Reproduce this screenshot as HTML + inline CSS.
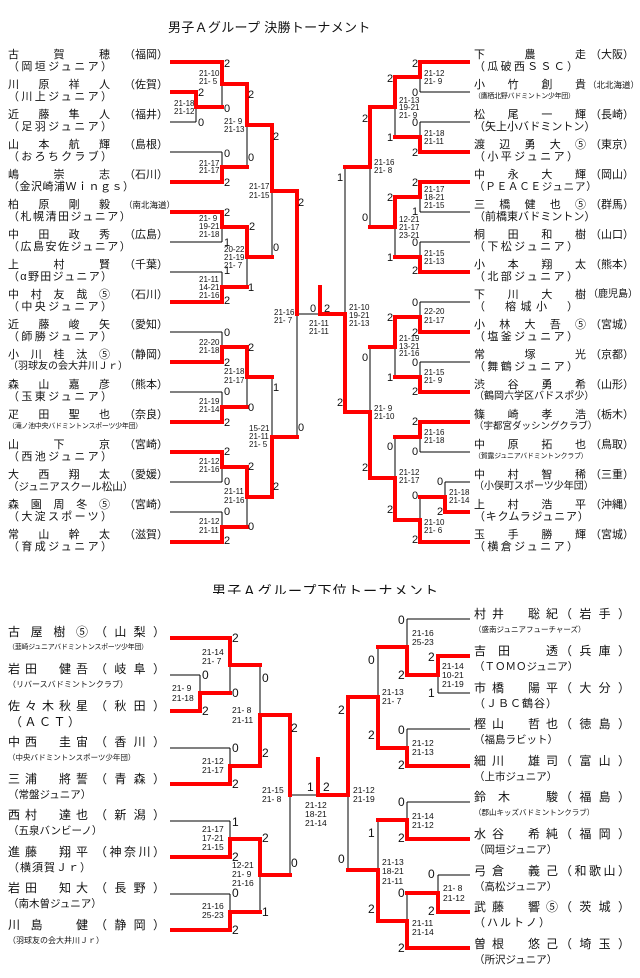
<!DOCTYPE html>
<html><head><meta charset="utf-8">
<style>
html,body{margin:0;padding:0;background:#fff;}
body{width:640px;height:978px;position:relative;overflow:hidden;font-family:"Liberation Sans","Noto Sans CJK JP",sans-serif;color:#111;}
.j{position:absolute;white-space:nowrap;text-align:justify;text-align-last:justify;text-justify:inter-character;font-size:11px;line-height:12px;height:12px;}
.t{position:absolute;white-space:nowrap;font-size:10px;line-height:12px;height:12px;}
.sm{font-size:7px;letter-spacing:-0.3px;}
.b{font-size:12px;line-height:14px;height:14px;}
svg{position:absolute;left:0;top:0;}
svg text{font-family:"Liberation Sans",sans-serif;fill:#111;}
.n{font-size:11px;}
.nb{font-size:12px;}
.s{font-size:8px;fill:#333;}
.sb{font-size:8.5px;fill:#333;}
</style></head><body>
<div style="position:absolute;left:168px;top:19px;font-size:13px;line-height:18px;letter-spacing:0.3px;">男子Ａグループ 決勝トーナメント</div>
<div style="position:absolute;left:212px;top:582px;height:12px;overflow:hidden;font-size:14px;line-height:18px;letter-spacing:1.2px;">男子Ａグループ下位トーナメント</div>

<svg width="640" height="978" viewBox="0 0 640 978">
<g stroke="#000" stroke-width="1" fill="none">
<!-- top left -->
<path d="M170 62H222M170 92H196M170 122H196M196 92V122M196 107H222M222 62V107M222 84H247
M170 152H222M170 182H222M222 152V182M222 167H247M247 84V167M247 125H272
M170 212H222M170 242H222M222 212V242M222 227H247M170 272H222M170 302H222M222 272V302M222 287H247M247 227V287M247 257H272M272 125V257M272 191H297
M170 332H222M170 362H222M222 332V362M222 347H247M170 392H222M170 422H222M222 392V422M222 407H247M247 347V407M247 377H272
M170 452H222M170 482H222M222 452V482M222 467H247M170 512H222M170 542H222M222 512V542M222 527H247M247 467V527M247 497H272M272 377V497M272 437H297
M297 191V437M297 314H320"/>
<!-- top right -->
<path d="M470 62H420M470 92H420M420 62V92M420 77H395M470 122H420M470 152H420M420 122V152M420 137H395M395 77V137M395 107H370
M470 182H420M470 212H420M420 182V212M420 197H395M470 242H420M470 272H420M420 242V272M420 257H395M395 197V257M395 227H370M370 107V227M370 167H345
M470 302H420M470 332H420M420 302V332M420 317H395M470 362H420M470 392H420M420 362V392M420 377H395M395 317V377M395 347H370
M470 422H420M470 452H420M420 422V452M420 437H395M470 482H445M470 512H445M445 482V512M445 497H420M470 542H420M420 497V542M420 520H395M395 437V520M395 478H370M370 347V478M370 412H345
M345 167V412M345 314H320"/>
<!-- bottom left -->
<path d="M170 638H230M170 675H200M170 711H200M200 675V711M200 693H230M230 638V693M230 665H260
M170 748H230M170 784H230M230 748V784M230 766H260M260 665V766M260 715H290
M170 821H230M170 857H230M230 821V857M230 839H260M170 894H230M170 930H230M230 894V930M230 912H260M260 839V912M260 875H290
M290 715V875M290 795H318"/>
<!-- bottom right -->
<path d="M470 619H407M470 656H438M470 693H438M438 656V693M438 675H407M407 619V675M407 647H378
M470 729H407M470 766H407M407 729V766M407 748H378M378 647V748M378 697H348
M470 802H407M470 839H407M407 802V839M407 820H378M470 875H438M470 912H438M438 875V912M438 893H407M470 948H407M407 893V948M407 921H378M378 820V921M378 870H348
M348 697V870M348 795H318"/>
</g>
<g stroke="#f00" stroke-width="4" fill="none" stroke-linejoin="miter" stroke-linecap="square">
<path d="M172 62H222V84H247V125H272V191H297V314"/>
<path d="M172 92H196V107H222"/>
<path d="M172 182H222V167H247"/>
<path d="M172 212H222V227H247V257H272"/>
<path d="M172 302H222V287H247"/>
<path d="M172 362H222V347H247V377H272"/>
<path d="M172 422H222V407H247"/>
<path d="M172 452H222V467H247V497H272V437H297"/>
<path d="M172 542H222V527H247"/>
<path d="M320 287V314H345"/>
<path d="M468 62H420V77H395V107H370V167H345"/>
<path d="M468 152H420V137H395"/>
<path d="M468 182H420V197H395V227H370"/>
<path d="M468 272H420V257H395"/>
<path d="M468 332H420V317H395V347H370"/>
<path d="M468 392H420V377H395"/>
<path d="M468 422H420V437H395"/>
<path d="M468 512H445V497H420"/>
<path d="M468 542H420V520H395V478H370V412H345V314"/>
<!-- bottom -->
<path d="M172 638H230V665H260"/>
<path d="M172 711H200V693H230"/>
<path d="M172 784H230V766H260V715H290V795"/>
<path d="M172 857H230V839H260V875H290"/>
<path d="M172 930H230V912H260"/>
<path d="M318 759V795H348V697H378"/>
<path d="M468 766H407V748H378V697"/>
<path d="M468 656H438V675H407V647H378"/>
<path d="M468 839H407V820H378"/>
<path d="M468 912H438V893H407"/>
<path d="M468 948H407V921H378V870H348"/>
</g>

<g class="n">
<text x="224" y="67">2</text><text x="198" y="96">2</text><text x="224" y="112">0</text><text x="198" y="126">0</text>
<text x="248" y="98">2</text><text x="248" y="161">0</text><text x="224" y="157">0</text><text x="224" y="186">2</text>
<text x="273" y="140">2</text><text x="298" y="206">2</text><text x="224" y="216">2</text><text x="249" y="230">2</text>
<text x="224" y="246">1</text><text x="273" y="251">0</text><text x="224" y="274">1</text><text x="248" y="291">1</text><text x="224" y="304">2</text>
<text x="224" y="336">0</text><text x="248" y="351">2</text><text x="224" y="366">2</text><text x="273" y="391">1</text>
<text x="224" y="395">0</text><text x="248" y="411">0</text><text x="224" y="426">2</text><text x="298" y="431">0</text>
<text x="224" y="455">2</text><text x="248" y="470">2</text><text x="224" y="485">0</text><text x="273" y="490">2</text>
<text x="224" y="515">0</text><text x="248" y="530">0</text><text x="224" y="544">2</text>
<text x="310" y="312">0</text><text x="324" y="312">2</text>
<text x="337" y="181">1</text><text x="362" y="221">0</text><text x="337" y="406">2</text><text x="362" y="361">0</text>
<text x="412" y="67">2</text><text x="387" y="82">2</text><text x="412" y="96">0</text><text x="362" y="122">2</text>
<text x="412" y="126">0</text><text x="387" y="141">1</text><text x="412" y="156">2</text><text x="412" y="186">2</text>
<text x="387" y="201">2</text><text x="412" y="215">1</text><text x="412" y="246">0</text><text x="387" y="261">1</text><text x="412" y="274">2</text>
<text x="412" y="306">0</text><text x="387" y="321">2</text><text x="412" y="336">2</text><text x="412" y="366">0</text>
<text x="387" y="381">1</text><text x="412" y="395">2</text><text x="412" y="425">2</text><text x="387" y="450">0</text>
<text x="412" y="455">0</text><text x="362" y="471">2</text><text x="437" y="485">0</text><text x="412" y="499">0</text>
<text x="437" y="515">2</text><text x="387" y="513">2</text><text x="412" y="543">2</text>
</g>
<g class="s">
<text x="199" y="76">21-10</text><text x="199" y="84">21- 5</text>
<text x="174" y="106">21-18</text><text x="174" y="114">21-12</text>
<text x="224" y="124">21- 9</text><text x="224" y="132">21-13</text>
<text x="199" y="166">21-17</text><text x="199" y="173">21-17</text>
<text x="249" y="189">21-17</text><text x="249" y="198">21-15</text>
<text x="199" y="221">21- 9</text><text x="199" y="229">19-21</text><text x="199" y="237">21-18</text>
<text x="224" y="252">20-22</text><text x="224" y="260">21-19</text><text x="224" y="268">21- 7</text>
<text x="199" y="282">21-11</text><text x="199" y="290">14-21</text><text x="199" y="298">21-16</text>
<text x="274" y="315">21-16</text><text x="274" y="323">21- 7</text>
<text x="199" y="345">22-20</text><text x="199" y="353">21-18</text>
<text x="224" y="374">21-18</text><text x="224" y="383">21-17</text>
<text x="199" y="404">21-19</text><text x="199" y="412">21-14</text>
<text x="249" y="431">15-21</text><text x="249" y="439">21-11</text><text x="249" y="447">21- 5</text>
<text x="199" y="464">21-12</text><text x="199" y="472">21-16</text>
<text x="224" y="494">21-11</text><text x="224" y="503">21-16</text>
<text x="199" y="524">21-12</text><text x="199" y="533">21-11</text>
<text x="309" y="326">21-11</text><text x="309" y="334">21-11</text>
<text x="349" y="310">21-10</text><text x="349" y="318">19-21</text><text x="349" y="326">21-13</text>
<text x="424" y="76">21-12</text><text x="424" y="84">21- 9</text>
<text x="399" y="103">21-13</text><text x="399" y="110">19-21</text><text x="399" y="118">21- 9</text>
<text x="424" y="136">21-18</text><text x="424" y="144">21-11</text>
<text x="374" y="165">21-16</text><text x="374" y="173">21- 8</text>
<text x="424" y="192">21-17</text><text x="424" y="200">18-21</text><text x="424" y="208">21-15</text>
<text x="399" y="222">12-21</text><text x="399" y="230">21-17</text><text x="399" y="238">23-21</text>
<text x="424" y="256">21-15</text><text x="424" y="264">21-13</text>
<text x="424" y="314">22-20</text><text x="424" y="323">21-17</text>
<text x="399" y="341">21-19</text><text x="399" y="349">13-21</text><text x="399" y="356">21-16</text>
<text x="424" y="375">21-15</text><text x="424" y="383">21- 9</text>
<text x="374" y="411">21- 9</text><text x="374" y="419">21-10</text>
<text x="424" y="435">21-16</text><text x="424" y="443">21-18</text>
<text x="399" y="475">21-12</text><text x="399" y="483">21-17</text>
<text x="449" y="495">21-18</text><text x="449" y="503">21-14</text>
<text x="424" y="525">21-10</text><text x="424" y="533">21- 6</text>
</g>

<g class="nb">
<text x="232" y="642">2</text><text x="202" y="679">0</text><text x="232" y="697">0</text><text x="202" y="715">2</text>
<text x="262" y="682">0</text><text x="291" y="732">2</text><text x="232" y="752">0</text><text x="262" y="757">2</text>
<text x="232" y="788">2</text><text x="307" y="791">1</text><text x="232" y="826">1</text><text x="262" y="842">2</text>
<text x="232" y="861">2</text><text x="291" y="867">0</text><text x="232" y="897">0</text><text x="262" y="916">1</text><text x="232" y="934">2</text>
<text x="323" y="791">2</text>
<text x="398" y="624">0</text><text x="368" y="664">0</text><text x="428" y="661">2</text><text x="398" y="679">2</text>
<text x="428" y="697">1</text><text x="338" y="714">2</text><text x="398" y="734">0</text><text x="368" y="739">2</text>
<text x="398" y="769">2</text><text x="398" y="806">0</text><text x="368" y="837">1</text><text x="398" y="842">2</text>
<text x="338" y="863">0</text><text x="428" y="878">0</text><text x="398" y="897">0</text><text x="368" y="913">2</text>
<text x="428" y="915">2</text><text x="398" y="952">2</text>
</g>
<g class="sb">
<text x="202" y="655">21-14</text><text x="202" y="664">21- 7</text>
<text x="172" y="691">21- 9</text><text x="172" y="701">21-18</text>
<text x="232" y="713">21- 8</text><text x="232" y="723">21-11</text>
<text x="202" y="764">21-12</text><text x="202" y="773">21-17</text>
<text x="262" y="793">21-15</text><text x="262" y="802">21- 8</text>
<text x="202" y="832">21-17</text><text x="202" y="841">17-21</text><text x="202" y="850">21-15</text>
<text x="232" y="868">12-21</text><text x="232" y="877">21- 9</text><text x="232" y="886">21-16</text>
<text x="202" y="909">21-16</text><text x="202" y="918">25-23</text>
<text x="305" y="808">21-12</text><text x="305" y="817">18-21</text><text x="305" y="826">21-14</text>
<text x="353" y="793">21-12</text><text x="353" y="802">21-19</text>
<text x="412" y="636">21-16</text><text x="412" y="645">25-23</text>
<text x="442" y="669">21-14</text><text x="442" y="678">10-21</text><text x="442" y="687">21-19</text>
<text x="382" y="695">21-13</text><text x="382" y="704">21- 7</text>
<text x="412" y="746">21-12</text><text x="412" y="755">21-13</text>
<text x="412" y="819">21-14</text><text x="412" y="828">21-12</text>
<text x="382" y="865">21-13</text><text x="382" y="874">18-21</text><text x="382" y="884">21-11</text>
<text x="443" y="891">21- 8</text><text x="443" y="901">21-12</text>
<text x="412" y="926">21-11</text><text x="412" y="935">21-14</text>
</g>
</svg>

<!-- top left names -->
<div class="j" style="left:8px;top:49px;width:102px">古賀穂</div><div class="j" style="left:124px;top:49px;width:40px">（福岡）</div>
<div class="j" style="left:8px;top:61px;width:104px">（岡垣ジュニア）</div>
<div class="j" style="left:8px;top:79px;width:102px">川原祥人</div><div class="j" style="left:124px;top:79px;width:40px">（佐賀）</div>
<div class="j" style="left:8px;top:91px;width:104px">（川上ジュニア）</div>
<div class="j" style="left:8px;top:109px;width:102px">近藤隼人</div><div class="j" style="left:124px;top:109px;width:40px">（福井）</div>
<div class="j" style="left:8px;top:121px;width:104px">（足羽ジュニア）</div>
<div class="j" style="left:8px;top:139px;width:102px">山本航輝</div><div class="j" style="left:124px;top:139px;width:40px">（島根）</div>
<div class="j" style="left:8px;top:151px;width:104px">（おろちクラブ）</div>
<div class="j" style="left:8px;top:169px;width:102px">嶋崇志</div><div class="j" style="left:124px;top:169px;width:40px">（石川）</div>
<div class="t" style="left:8px;top:181px;font-size:11px;letter-spacing:0.5px">（金沢崎浦Ｗｉｎｇｓ）</div>
<div class="j" style="left:8px;top:199px;width:102px">柏原剛毅</div><div class="t" style="left:124px;top:199px;font-size:8.5px">（南北海道）</div>
<div class="t" style="left:8px;top:211px;font-size:11px;letter-spacing:1.5px">（札幌清田ジュニア）</div>
<div class="j" style="left:8px;top:229px;width:102px">中田政秀</div><div class="j" style="left:124px;top:229px;width:40px">（広島）</div>
<div class="t" style="left:8px;top:241px;font-size:11px;letter-spacing:1.5px">（広島安佐ジュニア）</div>
<div class="j" style="left:8px;top:259px;width:102px">上村賢</div><div class="j" style="left:124px;top:259px;width:40px">（千葉）</div>
<div class="j" style="left:8px;top:271px;width:104px">（α野田ジュニア）</div>
<div class="j" style="left:8px;top:289px;width:102px">中村友哉⑤</div><div class="j" style="left:124px;top:289px;width:40px">（石川）</div>
<div class="j" style="left:8px;top:301px;width:104px">（中央ジュニア）</div>
<div class="j" style="left:8px;top:319px;width:102px">近藤峻矢</div><div class="j" style="left:124px;top:319px;width:40px">（愛知）</div>
<div class="j" style="left:8px;top:331px;width:104px">（師勝ジュニア）</div>
<div class="j" style="left:8px;top:349px;width:102px">小川桂汰⑤</div><div class="j" style="left:124px;top:349px;width:40px">（静岡）</div>
<div class="t" style="left:8px;top:361px;font-size:10px">（羽球友の会大井川Ｊｒ）</div>
<div class="j" style="left:8px;top:379px;width:102px">森山嘉彦</div><div class="j" style="left:124px;top:379px;width:40px">（熊本）</div>
<div class="j" style="left:8px;top:391px;width:104px">（玉東ジュニア）</div>
<div class="j" style="left:8px;top:409px;width:102px">疋田聖也</div><div class="j" style="left:124px;top:409px;width:40px">（奈良）</div>
<div class="t sm" style="left:8px;top:421px">（滝ノ池中央バドミントンスポーツ少年団）</div>
<div class="j" style="left:8px;top:439px;width:102px">山下京</div><div class="j" style="left:124px;top:439px;width:40px">（宮崎）</div>
<div class="j" style="left:8px;top:451px;width:104px">（西池ジュニア）</div>
<div class="j" style="left:8px;top:469px;width:102px">大西翔太</div><div class="j" style="left:124px;top:469px;width:40px">（愛媛）</div>
<div class="t" style="left:8px;top:481px;font-size:10.5px">（ジュニアスクール松山）</div>
<div class="j" style="left:8px;top:499px;width:102px">森園周冬⑤</div><div class="j" style="left:124px;top:499px;width:40px">（宮崎）</div>
<div class="j" style="left:8px;top:511px;width:104px">（大淀スポーツ）</div>
<div class="j" style="left:8px;top:529px;width:102px">常山幹太</div><div class="j" style="left:124px;top:529px;width:40px">（滋賀）</div>
<div class="j" style="left:8px;top:541px;width:104px">（育成ジュニア）</div>

<!-- top right names -->
<div class="j" style="left:474px;top:49px;width:112px">下農走</div><div class="j" style="left:590px;top:49px;width:40px">（大阪）</div>
<div class="j" style="left:474px;top:61px;width:104px">（瓜破西ＳＳＣ）</div>
<div class="j" style="left:474px;top:79px;width:112px">小竹創貴</div><div class="t" style="left:588px;top:79px;font-size:8.5px">（北北海道）</div>
<div class="t sm" style="left:474px;top:91px">（鷹栖北野バドミントン少年団）</div>
<div class="j" style="left:474px;top:109px;width:112px">松尾一輝</div><div class="j" style="left:590px;top:109px;width:40px">（長崎）</div>
<div class="t" style="left:474px;top:121px;font-size:11px">（矢上小バドミントン）</div>
<div class="j" style="left:474px;top:139px;width:112px">渡辺勇大⑤</div><div class="j" style="left:590px;top:139px;width:40px">（東京）</div>
<div class="j" style="left:474px;top:151px;width:104px">（小平ジュニア）</div>
<div class="j" style="left:474px;top:169px;width:112px">中永大輝</div><div class="j" style="left:590px;top:169px;width:40px">（岡山）</div>
<div class="t" style="left:474px;top:181px;font-size:10.5px;letter-spacing:0.8px">（ＰＥＡＣＥジュニア）</div>
<div class="j" style="left:474px;top:199px;width:112px">三橋健也⑤</div><div class="j" style="left:590px;top:199px;width:40px">（群馬）</div>
<div class="t" style="left:474px;top:211px;font-size:11px">（前橋東バドミントン）</div>
<div class="j" style="left:474px;top:229px;width:112px">桐田和樹</div><div class="j" style="left:590px;top:229px;width:40px">（山口）</div>
<div class="j" style="left:474px;top:241px;width:104px">（下松ジュニア）</div>
<div class="j" style="left:474px;top:259px;width:112px">小本翔太</div><div class="j" style="left:590px;top:259px;width:40px">（熊本）</div>
<div class="j" style="left:474px;top:271px;width:104px">（北部ジュニア）</div>
<div class="j" style="left:474px;top:289px;width:112px">下川大樹</div><div class="t" style="left:588px;top:289px;font-size:10px">（鹿児島）</div>
<div class="j" style="left:474px;top:301px;width:104px">（　榕城小　）</div>
<div class="j" style="left:474px;top:319px;width:112px">小林大吾⑤</div><div class="j" style="left:590px;top:319px;width:40px">（宮城）</div>
<div class="j" style="left:474px;top:331px;width:104px">（塩釜ジュニア）</div>
<div class="j" style="left:474px;top:349px;width:112px">常塚光</div><div class="j" style="left:590px;top:349px;width:40px">（京都）</div>
<div class="j" style="left:474px;top:361px;width:104px">（舞鶴ジュニア）</div>
<div class="j" style="left:474px;top:379px;width:112px">渋谷勇希</div><div class="j" style="left:590px;top:379px;width:40px">（山形）</div>
<div class="t" style="left:474px;top:391px;font-size:10px">（鶴岡六学区バドスポ少）</div>
<div class="j" style="left:474px;top:409px;width:112px">篠崎孝浩</div><div class="j" style="left:590px;top:409px;width:40px">（栃木）</div>
<div class="t" style="left:474px;top:421px;font-size:9.5px">（宇都宮ダッシングクラブ）</div>
<div class="j" style="left:474px;top:439px;width:112px">中原拓也</div><div class="j" style="left:590px;top:439px;width:40px">（鳥取）</div>
<div class="t sm" style="left:474px;top:451px">（賀露ジュニアバドミントンクラブ）</div>
<div class="j" style="left:474px;top:469px;width:112px">中村智稀</div><div class="j" style="left:590px;top:469px;width:40px">（三重）</div>
<div class="t" style="left:474px;top:481px;font-size:10px">（小俣町スポーツ少年団）</div>
<div class="j" style="left:474px;top:499px;width:112px">上村浩平</div><div class="j" style="left:590px;top:499px;width:40px">（沖縄）</div>
<div class="t" style="left:474px;top:511px;font-size:11px;letter-spacing:0.8px">（キクムラジュニア）</div>
<div class="j" style="left:474px;top:529px;width:112px">玉手勝輝</div><div class="j" style="left:590px;top:529px;width:40px">（宮城）</div>
<div class="j" style="left:474px;top:541px;width:104px">（横倉ジュニア）</div>

<!-- bottom left names -->
<div class="j b" style="left:8px;top:625px;width:80px">古屋樹⑤</div><div class="j b" style="left:95px;top:625px;width:70px">（山梨）</div>
<div class="t sm" style="left:8px;top:642px">（韮崎ジュニアバドミントンスポーツ少年団）</div>
<div class="j b" style="left:8px;top:662px;width:80px">岩田　健吾</div><div class="j b" style="left:95px;top:662px;width:70px">（岐阜）</div>
<div class="t" style="left:8px;top:679px;font-size:8px">（リバースバドミントンクラブ）</div>
<div class="j b" style="left:8px;top:699px;width:80px">佐々木秋星</div><div class="j b" style="left:95px;top:699px;width:70px">（秋田）</div>
<div class="j b" style="left:10px;top:715px;width:70px">（ＡＣＴ）</div>
<div class="j b" style="left:8px;top:735px;width:80px">中西　圭宙</div><div class="j b" style="left:95px;top:735px;width:70px">（香川）</div>
<div class="t" style="left:8px;top:752px;font-size:7.5px">（中央バドミントンスポーツ少年団）</div>
<div class="j b" style="left:8px;top:772px;width:80px">三浦　將誓</div><div class="j b" style="left:95px;top:772px;width:70px">（青森）</div>
<div class="t" style="left:8px;top:789px;font-size:10.5px">（常盤ジュニア）</div>
<div class="j b" style="left:8px;top:808px;width:80px">西村　達也</div><div class="j b" style="left:95px;top:808px;width:70px">（新潟）</div>
<div class="t" style="left:8px;top:825px;font-size:10.5px">（五泉バンビーノ）</div>
<div class="j b" style="left:8px;top:845px;width:80px">進藤　翔平</div><div class="j b" style="left:95px;top:845px;width:70px">（神奈川）</div>
<div class="t" style="left:8px;top:862px;font-size:11px;letter-spacing:1px">（横須賀Ｊｒ）</div>
<div class="j b" style="left:8px;top:881px;width:80px">岩田　知大</div><div class="j b" style="left:95px;top:881px;width:70px">（長野）</div>
<div class="t" style="left:8px;top:898px;font-size:10.5px">（南木曽ジュニア）</div>
<div class="j b" style="left:8px;top:918px;width:80px">川島　健</div><div class="j b" style="left:95px;top:918px;width:70px">（静岡）</div>
<div class="t" style="left:8px;top:935px;font-size:8px">（羽球友の会大井川Ｊｒ）</div>

<!-- bottom right names -->
<div class="j b" style="left:474px;top:607px;width:84px">村井　聡紀</div><div class="j b" style="left:560px;top:607px;width:70px">（岩手）</div>
<div class="t" style="left:474px;top:624px;font-size:7.5px">（盛南ジュニアフューチャーズ）</div>
<div class="j b" style="left:474px;top:644px;width:84px">吉田　透</div><div class="j b" style="left:560px;top:644px;width:70px">（兵庫）</div>
<div class="t" style="left:474px;top:661px;font-size:10.5px">（ＴＯＭＯジュニア）</div>
<div class="j b" style="left:474px;top:681px;width:84px">市橋　陽平</div><div class="j b" style="left:560px;top:681px;width:70px">（大分）</div>
<div class="t" style="left:474px;top:698px;font-size:11px;letter-spacing:1px">（ＪＢＣ鶴谷）</div>
<div class="j b" style="left:474px;top:717px;width:84px">樫山　哲也</div><div class="j b" style="left:560px;top:717px;width:70px">（徳島）</div>
<div class="t" style="left:474px;top:734px;font-size:10.5px">（福島ラビット）</div>
<div class="j b" style="left:474px;top:754px;width:84px">細川　雄司</div><div class="j b" style="left:560px;top:754px;width:70px">（富山）</div>
<div class="t" style="left:474px;top:771px;font-size:10.5px">（上市ジュニア）</div>
<div class="j b" style="left:474px;top:790px;width:84px">鈴木　駿</div><div class="j b" style="left:560px;top:790px;width:70px">（福島）</div>
<div class="t" style="left:474px;top:807px;font-size:7.5px">（郡山キッズバドミントンクラブ）</div>
<div class="j b" style="left:474px;top:827px;width:84px">水谷　希純</div><div class="j b" style="left:560px;top:827px;width:70px">（福岡）</div>
<div class="t" style="left:474px;top:844px;font-size:10.5px">（岡垣ジュニア）</div>
<div class="j b" style="left:474px;top:864px;width:84px">弓倉　義己</div><div class="j b" style="left:560px;top:864px;width:70px">（和歌山）</div>
<div class="t" style="left:474px;top:881px;font-size:10.5px">（高松ジュニア）</div>
<div class="j b" style="left:474px;top:900px;width:84px">武藤　響⑤</div><div class="j b" style="left:560px;top:900px;width:70px">（茨城）</div>
<div class="t" style="left:474px;top:917px;font-size:11px;letter-spacing:2px">（ハルトノ）</div>
<div class="j b" style="left:474px;top:937px;width:84px">曽根　悠己</div><div class="j b" style="left:560px;top:937px;width:70px">（埼玉）</div>
<div class="t" style="left:474px;top:954px;font-size:10.5px">（所沢ジュニア）</div>
</body></html>
